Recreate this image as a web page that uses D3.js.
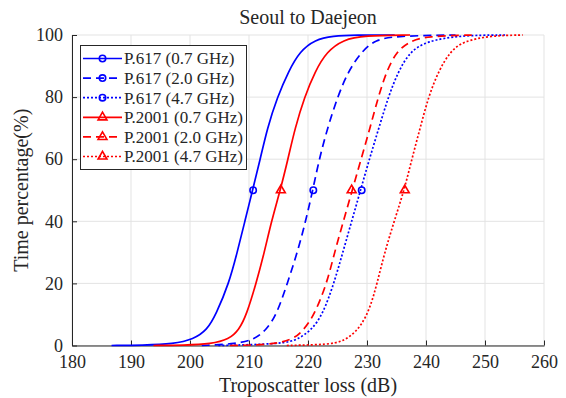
<!DOCTYPE html>
<html>
<head>
<meta charset="utf-8">
<script src="https://cdn.jsdelivr.net/npm/d3@7/dist/d3.min.js"></script>
<style>
    body { margin: 0; background: #fff; }
    text { font-family: "Liberation Serif", "Times New Roman", serif; fill: #262626; }
</style>
</head>
<body>
<svg id="chart" width="566" height="398"></svg>
<script>
// values: [loss dB, time %]
var xTicks = [180, 190, 200, 210, 220, 230, 240, 250, 260];
var yTicks = [0, 20, 40, 60, 80, 100];

var seriesNames = ['P.617 (0.7 GHz)', 'P.617 (2.0 GHz)', 'P.617 (4.7 GHz)',
    'P.2001 (0.7 GHz)', 'P.2001 (2.0 GHz)', 'P.2001 (4.7 GHz)'];

var p617_07 = [[186.7, 0], [192, 0.1], [197.2, 0.5], [200.6, 2], [202.9, 5], [204.4, 10],
    [206.6, 20], [208.0, 30], [209.3, 40], [210.6, 50], [211.9, 60], [213.1, 70], [214.8, 80],
    [216.7, 88.3], [218.6, 94.7], [221.2, 98.5], [224.2, 99.7], [228, 100], [234.7, 100]];
var p617_20 = [[202, 0], [207.9, 0.5], [211.0, 2], [212.9, 5], [214.7, 10], [216.5, 20],
    [218.2, 30], [219.6, 40], [220.8, 50], [221.9, 60], [223.3, 70], [225.0, 80], [226.8, 88.3],
    [229.1, 94.7], [231.4, 98.5], [235, 99.7], [245, 100]];
var p617_47 = [[204.8, 0], [215.8, 0.5], [218.3, 2], [220.6, 5], [222.5, 10], [224.4, 20],
    [225.9, 30], [227.4, 40], [228.9, 50], [230.4, 60], [232.0, 70], [233.6, 80], [235.3, 88.3],
    [237.3, 94.7], [240.1, 98], [245.8, 99.9], [253.4, 100]];
var p2001_07 = [[193.8, 0], [199, 0.1], [203.6, 0.5], [206.6, 2], [208.3, 5], [209.6, 10],
    [211.2, 20], [212.6, 30], [213.8, 40], [215.3, 50], [216.6, 60], [217.8, 70], [219.4, 80],
    [221.2, 88.3], [223.2, 94.7], [226.0, 98.5], [229.4, 99.8], [237.3, 100]];
var p2001_20 = [[206.8, 0], [213, 0.2], [217.3, 1.6], [219.3, 5], [221.1, 10], [223.2, 20],
    [224.5, 30], [226.0, 40], [227.5, 50], [229.0, 60], [230.5, 70], [231.9, 80], [233.3, 88.3],
    [235.0, 94.7], [237.3, 98], [240, 99.6], [248, 100]];
var p2001_47 = [[216.4, 0], [221, 0.2], [224.9, 0.6], [227.1, 2.7], [229.1, 6.5], [230.6, 12.5],
    [231.7, 20], [233.0, 30], [234.6, 40], [236.3, 50], [237.6, 60], [239.0, 70], [240.4, 80],
    [242.1, 88.3], [244.1, 94.7], [246.3, 98], [251, 99.8], [256.4, 100]];

// one marker per curve, at the 50 % point
var markerLoss = [210.7, 220.9, 229.1, 215.4, 227.4, 236.4];
var markerLevel = [50, 50, 50, 50, 50, 50];

var seriesData = [p617_07, p617_20, p617_47, p2001_07, p2001_20, p2001_47];

var styles = [
    { color: '#0000ff', dash: null, marker: 'circle' },
    { color: '#0000ff', dash: '8,5', marker: 'circle' },
    { color: '#0000ff', dash: '2,2', marker: 'circle' },
    { color: '#ff0000', dash: null, marker: 'triangle' },
    { color: '#ff0000', dash: '8,5', marker: 'triangle' },
    { color: '#ff0000', dash: '2,2', marker: 'triangle' }
];

var svg = d3.select('#chart');
var plotLeft = 72, plotRight = 544, plotTop = 35, plotBottom = 345.5;

var x = d3.scaleLinear().domain([180, 260]).range([plotLeft, plotRight]);
var y = d3.scaleLinear().domain([0, 100]).range([plotBottom, plotTop]);

/* grid */
svg.append('g').selectAll('line')
    .data(xTicks)
    .enter().append('line')
    .attr('x1', function(d) { return x(d); })
    .attr('x2', function(d) { return x(d); })
    .attr('y1', plotTop)
    .attr('y2', plotBottom)
    .attr('stroke', '#e3e3e3')
    .attr('stroke-width', 1);

svg.append('g').selectAll('line')
    .data(yTicks)
    .enter().append('line')
    .attr('x1', plotLeft)
    .attr('x2', plotRight)
    .attr('y1', function(d) { return y(d); })
    .attr('y2', function(d) { return y(d); })
    .attr('stroke', '#e3e3e3')
    .attr('stroke-width', 1);

/* axes */
var xAxis = svg.append('g')
    .attr('transform', 'translate(0,' + plotBottom + ')')
    .call(d3.axisBottom(x).tickValues(xTicks).tickSizeInner(-5).tickSizeOuter(0).tickPadding(10));

var yAxis = svg.append('g')
    .attr('transform', 'translate(' + plotLeft + ',0)')
    .call(d3.axisLeft(y).tickValues(yTicks).tickSizeInner(-5).tickSizeOuter(0).tickPadding(9));

[xAxis, yAxis].forEach(function(ax) {
    ax.select('.domain').attr('stroke', '#262626');
    ax.selectAll('.tick line').attr('stroke', '#262626');
    ax.selectAll('.tick text')
        .attr('fill', '#262626')
        .style('font-family', '"Liberation Serif", serif')
        .style('font-size', '18px');
});

/* curves */
var line = d3.line()
    .x(function(d) { return x(d[0]); })
    .y(function(d) { return y(d[1]); })
    .curve(d3.curveBasis);

function drawMarker(g, type, cx, cy, color) {
    if (type === 'circle') {
        g.append('circle')
            .attr('cx', cx)
            .attr('cy', cy)
            .attr('r', 3.2)
            .attr('fill', 'none')
            .attr('stroke', color)
            .attr('stroke-width', 1.6);
    } else {
        g.append('path')
            .attr('d', d3.symbol().type(d3.symbolTriangle).size(34)())
            .attr('transform', 'translate(' + cx + ',' + cy + ')')
            .attr('fill', 'none')
            .attr('stroke', color)
            .attr('stroke-width', 1.6);
    }
}

var plot = svg.append('g');
seriesData.forEach(function(data, i) {
    var s = styles[i];
    plot.append('path')
        .datum(data)
        .attr('d', line)
        .attr('fill', 'none')
        .attr('stroke', s.color)
        .attr('stroke-width', 1.7)
        .attr('stroke-dasharray', s.dash);
});
seriesData.forEach(function(data, i) {
    drawMarker(plot, styles[i].marker, x(markerLoss[i]), y(markerLevel[i]), styles[i].color);
});

/* legend */
var legend = svg.append('g');
legend.append('rect')
    .attr('x', 80.5)
    .attr('y', 45.5)
    .attr('width', 166)
    .attr('height', 124)
    .attr('fill', '#fff')
    .attr('stroke', '#262626')
    .attr('stroke-width', 1);

seriesNames.forEach(function(name, i) {
    var s = styles[i],
        ly = 58.5 + i * 19.6;
    legend.append('line')
        .attr('x1', 83)
        .attr('x2', 122)
        .attr('y1', ly)
        .attr('y2', ly)
        .attr('stroke', s.color)
        .attr('stroke-width', 1.7)
        .attr('stroke-dasharray', s.dash);
    drawMarker(legend, s.marker, 102.5, ly, s.color);
    legend.append('text')
        .attr('x', 124)
        .attr('y', ly)
        .attr('dy', '0.35em')
        .style('font-size', '17px')
        .text(name);
});

/* labels */
svg.append('text')
    .attr('x', (plotLeft + plotRight) / 2)
    .attr('y', 24)
    .attr('text-anchor', 'middle')
    .style('font-size', '20px')
    .text('Seoul to Daejeon');

svg.append('text')
    .attr('x', (plotLeft + plotRight) / 2)
    .attr('y', 392)
    .attr('text-anchor', 'middle')
    .style('font-size', '20px')
    .text('Troposcatter loss (dB)');

svg.append('text')
    .attr('transform', 'translate(28,' + ((plotTop + plotBottom) / 2) + ') rotate(-90)')
    .attr('text-anchor', 'middle')
    .style('font-size', '20px')
    .text('Time percentage(%)');
</script>
</body>
</html>
